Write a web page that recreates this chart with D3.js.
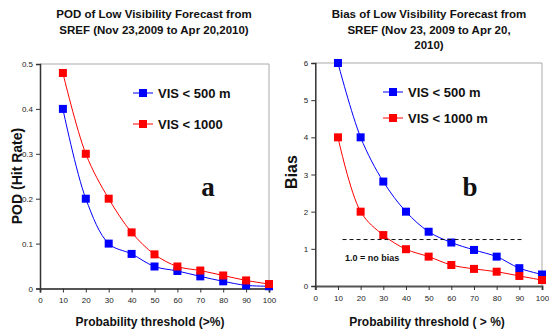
<!DOCTYPE html>
<html><head><meta charset="utf-8">
<script src="https://cdn.jsdelivr.net/npm/d3@7"></script>
<style>body{margin:0;background:#fff}svg{display:block}</style>
</head><body>
<script>
const thresholds = [10,20,30,40,50,60,70,80,90,100];
const podVis500 = [0.40,0.20,0.10,0.077,0.049,0.039,0.027,0.016,0.007,0.005];
const podVis1000 = [0.48,0.30,0.20,0.125,0.076,0.049,0.040,0.029,0.018,0.010];
const biasVis500 = [6.0,4.0,2.81,2.0,1.46,1.17,0.97,0.79,0.48,0.31];
const biasVis1000 = [4.0,2.0,1.37,0.99,0.79,0.565,0.46,0.385,0.27,0.16];
const xTicks = [0,10,20,30,40,50,60,70,80,90,100];
const podTicks = [0,0.1,0.2,0.3,0.4,0.5];
const biasTicks = [0,1,2,3,4,5,6];
const noBiasLine = {x0:12, x1:92, y:1.25, label:"1.0 = no bias"};

const W=549,H=335;
const svg=d3.select("body").append("svg").attr("width",W).attr("height",H);
const FONT="Liberation Sans, Arial, sans-serif";

function panel(o){
  const g=svg.append("g");
  const x=d3.scaleLinear().domain([0,100]).range([o.left,o.right]);
  const y=d3.scaleLinear().domain([0,o.ymax]).range([o.bottom,o.top]);
  // plot border (top/right)
  g.append("path").attr("d",`M${o.left},${o.top}H${o.right}V${o.bottom}`)
    .attr("fill","none").attr("stroke","#aaa").attr("stroke-width",1);
  // axes
  const xa=g.append("g").attr("transform",`translate(0,${o.bottom})`)
    .call(d3.axisBottom(x).tickValues(xTicks).tickSize(4).tickPadding(5).tickFormat(d3.format("d")));
  xa.select(".domain").attr("stroke","#555").attr("stroke-width",2);
  xa.selectAll(".tick line").attr("stroke","#333");
  xa.selectAll("text").attr("font-family",FONT).attr("font-size",8).attr("fill","#222");
  const ya=g.append("g").attr("transform",`translate(${o.left},0)`)
    .call(d3.axisLeft(y).tickValues(o.yTicks).tickSize(4).tickPadding(3).tickFormat(o.yfmt));
  ya.select(".domain").attr("stroke","#333").attr("stroke-width",1.5);
  ya.selectAll(".tick line").attr("stroke","#333");
  ya.selectAll("text").attr("font-family",FONT).attr("font-size",8).attr("fill","#222");
  // series
  const line=d3.line().x((d,i)=>x(thresholds[i])).y(d=>y(d)).curve(d3.curveCatmullRom.alpha(0.5));
  o.series.forEach(s=>{
    g.append("path").attr("d",line(s.values)).attr("fill","none").attr("stroke",s.color).attr("stroke-width",1);
    g.selectAll(null).data(s.values).enter().append("rect")
      .attr("x",(d,i)=>x(thresholds[i])-4).attr("y",d=>y(d)-4)
      .attr("width",8).attr("height",8).attr("fill",s.color);
  });
  // legend
  o.series.forEach((s,i)=>{
    const ly=o.legY+i*o.legGap, lx=o.legX;
    g.append("line").attr("x1",lx).attr("x2",lx+20).attr("y1",ly).attr("y2",ly).attr("stroke",s.color);
    g.append("rect").attr("x",lx+6).attr("y",ly-4).attr("width",8).attr("height",8).attr("fill",s.color);
    g.append("text").attr("x",lx+25).attr("y",ly).attr("dy","0.35em").attr("font-family",FONT)
      .attr("font-weight","bold").attr("font-size",13).attr("fill","#111").text(s.name);
  });
  // panel letter
  g.append("text").attr("x",o.letterX).attr("y",o.letterY).attr("font-family","Liberation Serif, Times New Roman, serif")
    .attr("font-weight","bold").attr("font-size",27).attr("text-anchor","middle").attr("fill","#111").text(o.letter);
  // titles
  const t=g.append("text").attr("font-family",FONT).attr("font-weight","bold").attr("font-size",11.5)
    .attr("text-anchor","middle").attr("fill","#111");
  o.title.forEach((l,i)=>t.append("tspan").attr("x",o.titleX).attr("y",18+i*15.5).text(l));
  g.append("text").attr("x",o.xTitleX).attr("y",326).attr("text-anchor","middle").attr("font-family",FONT)
    .attr("font-weight","bold").attr("font-size",12).attr("fill","#111").text(o.xTitle);
  g.append("text").attr("transform",`translate(${o.yTitleX},${o.yTitleY}) rotate(-90)`).attr("text-anchor","middle")
    .attr("font-family",FONT).attr("font-weight","bold").attr("font-size",o.yTitleSize).attr("fill","#111").text(o.yTitle);
  return {g,x,y};
}

panel({left:40,right:269,top:64,bottom:288.5,ymax:0.5,yTicks:podTicks,yfmt:d=>d===0?"0":d3.format(".1f")(d),
  series:[{name:"VIS < 500 m",color:"#0000ff",values:podVis500},{name:"VIS < 1000",color:"#ff0000",values:podVis1000}],
  legX:133,legY:93,legGap:31,letter:"a",letterX:208,letterY:196,
  title:["POD of Low Visibility Forecast from","SREF (Nov 23,2009 to Apr 20,2010)"],titleX:154,
  xTitle:"Probability threshold (>%)",xTitleX:150,yTitle:"POD (Hit Rate)",yTitleX:22,yTitleY:176,yTitleSize:14});

const p2=panel({left:315.3,right:542,top:63,bottom:286,ymax:6,yTicks:biasTicks,yfmt:d3.format("d"),
  series:[{name:"VIS < 500 m",color:"#0000ff",values:biasVis500},{name:"VIS < 1000 m",color:"#ff0000",values:biasVis1000}],
  legX:383,legY:92,legGap:26,letter:"b",letterX:470,letterY:196,
  title:["Bias of Low Visibility Forecast from","SREF (Nov 23, 2009 to Apr 20,","2010)"],titleX:429,
  xTitle:"Probability threshold ( > %)",xTitleX:427,yTitle:"Bias",yTitleX:297,yTitleY:172,yTitleSize:16});

p2.g.append("line").attr("x1",p2.x(noBiasLine.x0)).attr("x2",p2.x(noBiasLine.x1))
  .attr("y1",p2.y(noBiasLine.y)).attr("y2",p2.y(noBiasLine.y))
  .attr("stroke","#111").attr("stroke-width",1).attr("stroke-dasharray","4,3");
p2.g.append("text").attr("x",345).attr("y",261).attr("font-family",FONT).attr("font-weight","bold")
  .attr("font-size",9).attr("fill","#111").text(noBiasLine.label);
</script>
</body></html>
